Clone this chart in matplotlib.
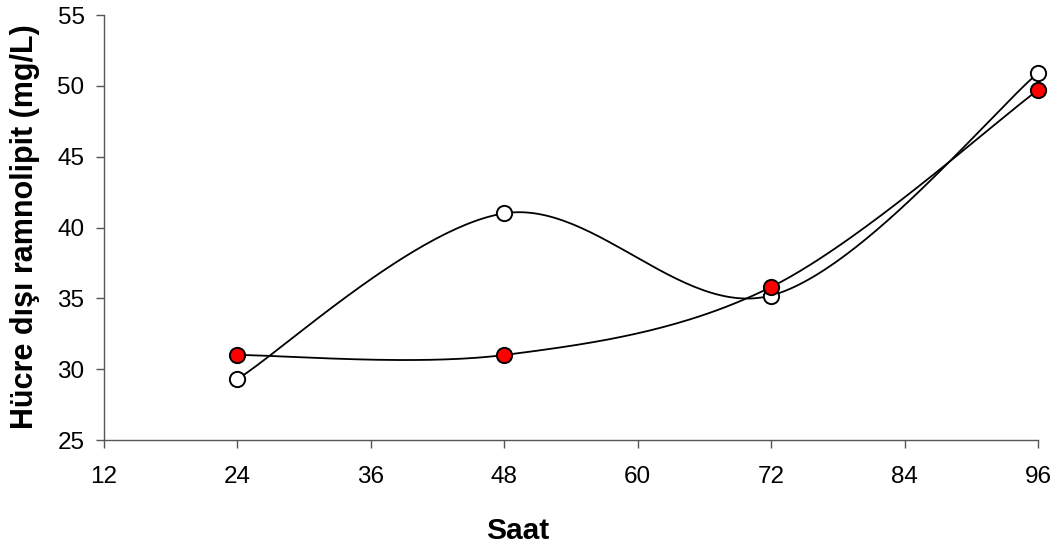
import numpy as np
import matplotlib
matplotlib.use("Agg")
import matplotlib.pyplot as plt

plt.rcParams['font.family'] = ['Liberation Sans', 'DejaVu Sans']

# Sampling times (hours) and extracellular rhamnolipid (mg/L)
hours = [24, 48, 72, 96]
series_open = [29.3, 41.0, 35.2, 50.9]
series_red = [31.0, 31.0, 35.8, 49.7]
x_ticks = [12, 24, 36, 48, 60, 72, 84, 96]
y_ticks = [25, 30, 35, 40, 45, 50, 55]


def smooth_curve(xs, ys, n=60):
    """Cubic Bezier smoothing through every point (Catmull-Rom tangents)."""
    p = np.column_stack([xs, ys]).astype(float)
    ext = np.vstack([p[0], p, p[-1]])
    out = []
    t = np.linspace(0, 1, n)[:, None]
    for i in range(len(p) - 1):
        p0, p1, p2, p3 = ext[i], ext[i + 1], ext[i + 2], ext[i + 3]
        c1 = p1 + (p2 - p0) / 6.0
        c2 = p2 - (p3 - p1) / 6.0
        seg = ((1 - t) ** 3) * p1 + 3 * ((1 - t) ** 2) * t * c1 \
            + 3 * (1 - t) * t ** 2 * c2 + t ** 3 * p2
        out.append(seg if i == 0 else seg[1:])
    arr = np.vstack(out)
    return arr[:, 0], arr[:, 1]


W, H = 1064, 552
fig = plt.figure(figsize=(W / 100, H / 100), dpi=100)
ax = fig.add_axes([104 / W, 1 - 440 / H, 934 / W, 425 / H])

for ys, face in [(series_open, 'white'), (series_red, '#ff0000')]:
    sx, sy = smooth_curve(hours, ys)
    ax.plot(sx, sy, color='black', lw=1.3, zorder=2)
    ax.plot(hours, ys, linestyle='none', marker='o', markersize=11,
            markerfacecolor=face, markeredgecolor='black',
            markeredgewidth=1.4, zorder=3, clip_on=False)

ax.set_xlim(12, 96)
ax.set_ylim(25, 55)
ax.set_xticks(x_ticks)
ax.set_yticks(y_ticks)
ax.tick_params(axis='both', labelsize=17.5, direction='out', length=6,
               width=1.0, color='#555555')
ax.tick_params(axis='x', pad=13)
ax.tick_params(axis='y', pad=8)
for side in ['top', 'right']:
    ax.spines[side].set_visible(False)
for side in ['left', 'bottom']:
    ax.spines[side].set_color('#555555')
    ax.spines[side].set_linewidth(1.0)

fig.text(518 / W, 1 - 531 / H, 'Saat', fontsize=21.5, fontweight='bold',
         ha='center', va='center')
fig.text(25 / W, 1 - 227 / H, 'Hücre dışı ramnolipit (mg/L)', fontsize=22,
         fontweight='bold', rotation=90, ha='center', va='center')

fig.savefig('out.png', dpi=100)
